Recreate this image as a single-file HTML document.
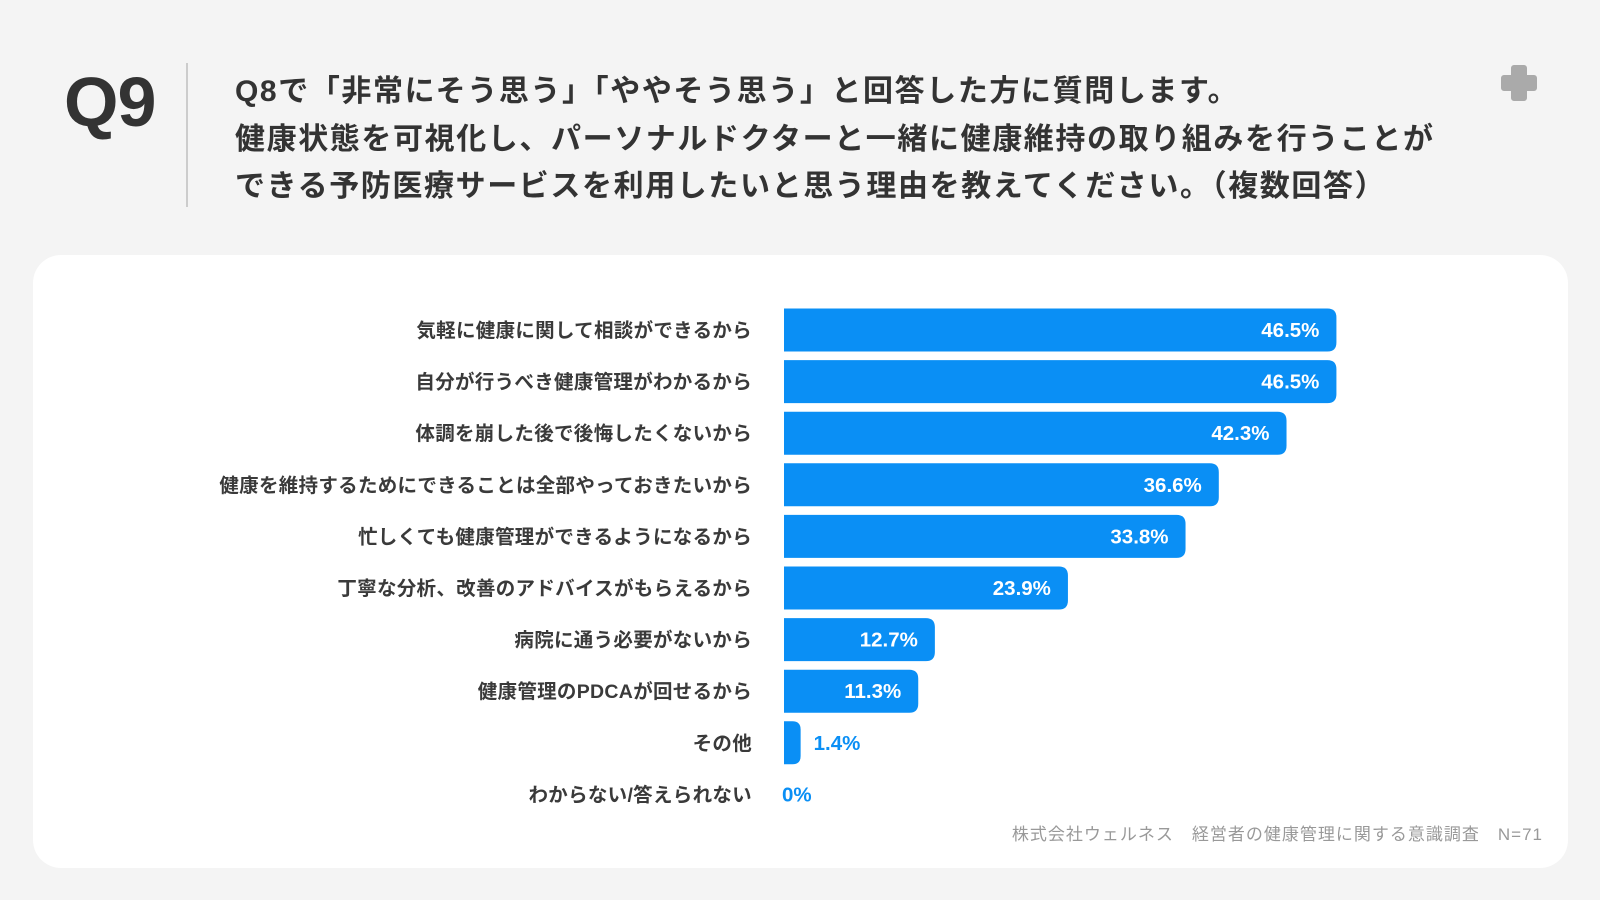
<!DOCTYPE html>
<html><head><meta charset="utf-8">
<style>
body{margin:0;width:1600px;height:900px;background:#f4f4f4;font-family:"Liberation Sans","Noto Sans CJK JP",sans-serif;position:relative;overflow:hidden;color:#333}
.q{position:absolute;left:64px;top:62px;font-size:70px;font-weight:bold;color:#333;letter-spacing:-1px}
.div{position:absolute;left:186px;top:63px;width:2px;height:144px;background:#ccc}
.t{position:absolute;left:235px;top:68px;font-size:30px;font-weight:bold;line-height:47.5px;color:#333;white-space:nowrap;letter-spacing:1.6px}
.plus{position:absolute;left:1500px;top:64px}
.card{position:absolute;left:33px;top:255px;width:1535px;height:613px;background:#fff;border-radius:28px}
.foot{position:absolute;right:57px;top:820px;font-size:17px;color:#999;white-space:nowrap;letter-spacing:1px}
</style></head><body>
<div class="q">Q9</div>
<div class="div"></div>
<div class="t">Q8で「非常にそう思う」「ややそう思う」と回答した方に質問します。<br>健康状態を可視化し、パーソナルドクターと一緒に健康維持の取り組みを行うことが<br>できる予防医療サービスを利用したいと思う理由を教えてください。（複数回答）</div>
<svg class="plus" width="38" height="38" viewBox="0 0 38 38"><path d="M14 4h10v10h10v10H24v10H14V24H4V14h10z" fill="#aaa" stroke="#aaa" stroke-width="6" stroke-linejoin="round"/></svg>
<div class="card"></div>
<svg id="chart" width="1600" height="900" style="position:absolute;left:0;top:0"></svg>
<div class="foot">株式会社ウェルネス　経営者の健康管理に関する意識調査　N=71</div>
<script>
const categories=["気軽に健康に関して相談ができるから","自分が行うべき健康管理がわかるから","体調を崩した後で後悔したくないから","健康を維持するためにできることは全部やっておきたいから","忙しくても健康管理ができるようになるから","丁寧な分析、改善のアドバイスがもらえるから","病院に通う必要がないから","健康管理のPDCAが回せるから","その他","わからない/答えられない"];
const values=[46.5,46.5,42.3,36.6,33.8,23.9,12.7,11.3,1.4,0];
const valueLabels=["46.5%","46.5%","42.3%","36.6%","33.8%","23.9%","12.7%","11.3%","1.4%","0%"];
const svg=document.getElementById('chart');
const NS='http://www.w3.org/2000/svg';
const x0=784,scale=11.88,y0=330,step=51.6,bh=43;
const xs=v=>v*scale, ys=i=>y0+i*step;
categories.forEach((c,i)=>{
  const cy=ys(i);
  const lab=document.createElementNS(NS,'text');
  
  
  lab.setAttribute('x',752);lab.setAttribute('y',cy+7);lab.setAttribute('text-anchor','end');
  lab.setAttribute('font-size','19.5');lab.setAttribute('font-weight','bold');lab.setAttribute('fill','#3a3a3a');lab.setAttribute('letter-spacing','0.3');lab.textContent=c;svg.appendChild(lab);
  const w=xs(values[i]);
  if(w>0){
    const r=Math.min(9,w/2);
    const p=document.createElementNS(NS,'path');
    
    
    const t=cy-bh/2,b=cy+bh/2;
    p.setAttribute('d',`M${x0} ${t}H${x0+w-r}Q${x0+w} ${t} ${x0+w} ${t+r}V${b-r}Q${x0+w} ${b} ${x0+w-r} ${b}H${x0}Z`);
    p.setAttribute('fill','#0a8ff5');svg.appendChild(p);
  }
  const v=document.createElementNS(NS,'text');
  
  
  const inside=w>80;
  v.setAttribute('x',inside?x0+w-17:x0+w+(w>0?13:-2));
  v.setAttribute('y',cy+7);
  v.setAttribute('text-anchor',inside?'end':'start');
  v.setAttribute('font-size','20.5');v.setAttribute('font-weight','bold');
  v.setAttribute('fill',inside?'#fff':'#0a8ff5');
  v.textContent=valueLabels[i];svg.appendChild(v);
});
</script>
</body></html>
